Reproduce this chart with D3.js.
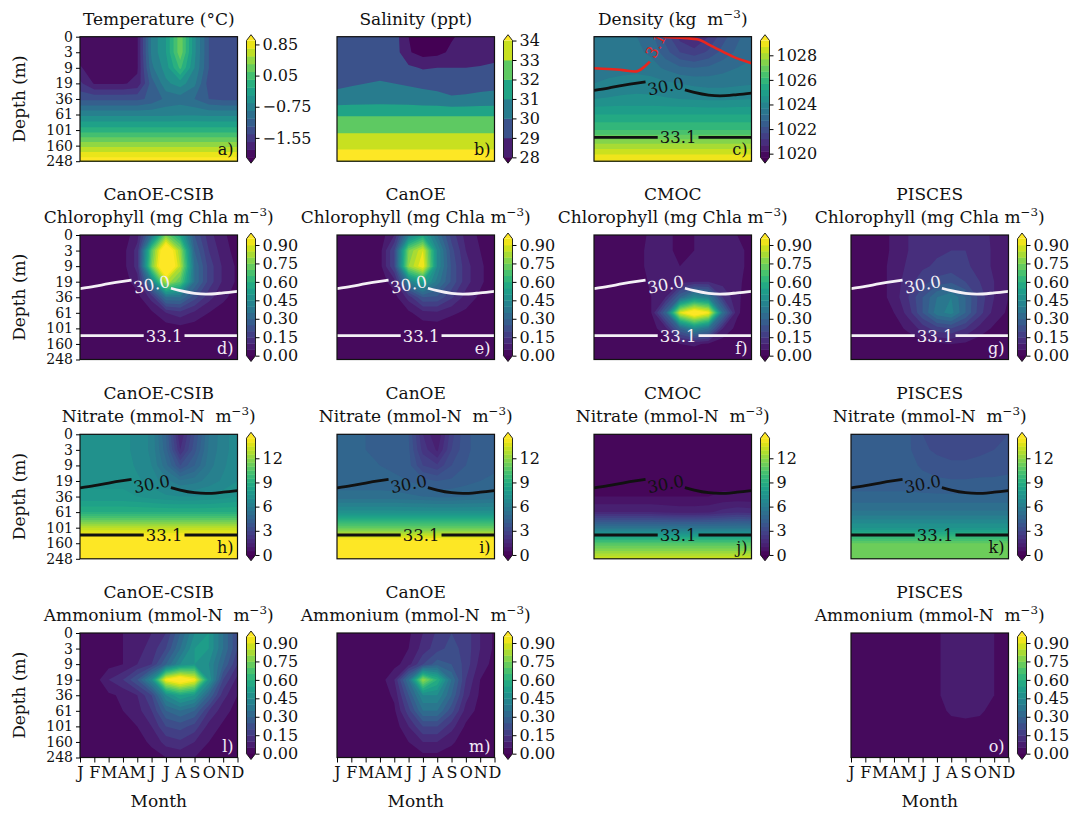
<!DOCTYPE html>
<html>
<head>
<meta charset="utf-8">
<style>
  body { margin: 0; background: #fff; }
  text { font-family: "DejaVu Serif", serif; fill: #111; }
</style>
</head>
<body>
<div id="chart"></div>
<script src="https://cdn.jsdelivr.net/npm/d3@7"></script>
<script>
/*
 * The Data
 * every grid is depth level (rows: 0,3,9,19,36,61,101,160,248 m) x month (Jan..Dec)
 */
var months = ["J","F","M","A","M","J","J","A","S","O","N","D"];
var depths = ["0","3","9","19","36","61","101","160","248"];

var temperature = [
  [-1.90,-1.90,-1.90,-1.90,-1.88,-0.80,-0.45, 0.30,-0.60,-1.25,-1.45,-1.45],
  [-1.90,-1.90,-1.90,-1.90,-1.88,-0.80,-0.45, 0.30,-0.60,-1.25,-1.45,-1.45],
  [-1.84,-1.90,-1.90,-1.90,-1.88,-0.90,-0.55, 0.00,-0.65,-1.25,-1.45,-1.45],
  [-1.60,-1.87,-1.87,-1.87,-1.80,-1.15,-0.70,-0.55,-0.80,-1.35,-1.45,-1.45],
  [-1.30,-1.30,-1.30,-1.30,-1.30,-1.20,-1.00,-0.95,-1.05,-1.25,-1.30,-1.30],
  [-0.70,-0.70,-0.70,-0.70,-0.70,-0.70,-0.70,-0.68,-0.68,-0.70,-0.70,-0.70],
  [-0.15,-0.15,-0.15,-0.15,-0.15,-0.15,-0.15,-0.15,-0.15,-0.15,-0.15,-0.15],
  [ 0.50, 0.50, 0.50, 0.50, 0.50, 0.50, 0.50, 0.50, 0.50, 0.50, 0.50, 0.50],
  [ 1.10, 1.10, 1.10, 1.10, 1.10, 1.10, 1.10, 1.10, 1.10, 1.10, 1.10, 1.10]
];
var salinity = [
  [29.50,29.45,29.45,29.50,29.50,28.00,27.50,27.50,27.90,28.30,28.60,28.80],
  [29.50,29.50,29.50,29.55,29.55,28.10,27.60,27.70,28.20,28.50,28.65,28.80],
  [29.60,29.65,29.70,29.75,29.70,29.20,28.90,29.00,29.00,29.00,29.05,29.10],
  [29.75,29.90,30.00,30.05,30.00,29.90,29.80,29.70,29.65,29.65,29.70,29.75],
  [30.40,30.45,30.50,30.55,30.50,30.45,30.35,30.30,30.10,30.15,30.25,30.30],
  [31.90,31.90,31.90,31.90,31.90,31.90,31.90,31.90,31.90,31.90,31.90,31.90],
  [32.80,32.80,32.80,32.80,32.80,32.80,32.80,32.80,32.80,32.80,32.80,32.80],
  [33.80,33.80,33.80,33.80,33.80,33.80,33.80,33.80,33.80,33.80,33.80,33.80],
  [34.60,34.60,34.60,34.60,34.60,34.60,34.60,34.60,34.60,34.60,34.60,34.60]
];
var density = [
  [1023.40,1023.35,1023.30,1023.20,1022.90,1022.00,1021.00,1020.60,1021.20,1022.00,1022.60,1023.00],
  [1023.40,1023.40,1023.35,1023.30,1023.10,1022.40,1021.70,1021.40,1021.80,1022.40,1022.80,1023.10],
  [1023.50,1023.50,1023.50,1023.50,1023.40,1023.10,1022.80,1022.70,1022.80,1023.00,1023.20,1023.30],
  [1023.70,1023.80,1023.90,1024.00,1023.95,1023.80,1023.70,1023.60,1023.55,1023.55,1023.60,1023.65],
  [1024.20,1024.25,1024.30,1024.30,1024.30,1024.25,1024.20,1024.15,1024.10,1024.10,1024.15,1024.20],
  [1025.20,1025.20,1025.20,1025.20,1025.20,1025.20,1025.20,1025.20,1025.20,1025.20,1025.20,1025.20],
  [1026.20,1026.20,1026.20,1026.20,1026.20,1026.20,1026.20,1026.20,1026.20,1026.20,1026.20,1026.20],
  [1027.90,1027.90,1027.90,1027.90,1027.90,1027.90,1027.90,1027.90,1027.90,1027.90,1027.90,1027.90],
  [1029.30,1029.30,1029.30,1029.30,1029.30,1029.30,1029.30,1029.30,1029.30,1029.30,1029.30,1029.30]
];

var chlCanoeCsib = [
  [0.00,0.00,0.00,0.02,0.08,0.35,0.75,0.55,0.25,0.12,0.06,0.02],
  [0.00,0.00,0.00,0.03,0.12,0.70,1.10,0.80,0.30,0.15,0.07,0.03],
  [0.00,0.00,0.00,0.03,0.12,0.75,1.15,0.85,0.35,0.18,0.09,0.04],
  [0.00,0.00,0.00,0.02,0.08,0.40,0.85,0.70,0.35,0.18,0.09,0.04],
  [0.00,0.00,0.00,0.01,0.03,0.12,0.35,0.35,0.22,0.12,0.06,0.03],
  [0.00,0.00,0.00,0.00,0.01,0.04,0.10,0.13,0.09,0.05,0.03,0.01],
  [0.00,0.00,0.00,0.00,0.00,0.01,0.02,0.03,0.02,0.01,0.00,0.00],
  [0.00,0.00,0.00,0.00,0.00,0.00,0.00,0.00,0.00,0.00,0.00,0.00],
  [0.00,0.00,0.00,0.00,0.00,0.00,0.00,0.00,0.00,0.00,0.00,0.00]
];
var chlCanoe = [
  [0.00,0.00,0.00,0.02,0.10,0.40,0.55,0.35,0.18,0.08,0.04,0.01],
  [0.00,0.00,0.00,0.03,0.20,0.75,0.90,0.45,0.22,0.10,0.05,0.02],
  [0.00,0.00,0.00,0.03,0.20,0.80,0.95,0.45,0.24,0.12,0.06,0.02],
  [0.00,0.00,0.00,0.02,0.08,0.40,0.55,0.38,0.24,0.12,0.06,0.02],
  [0.00,0.00,0.00,0.01,0.03,0.12,0.25,0.24,0.16,0.08,0.04,0.01],
  [0.00,0.00,0.00,0.00,0.01,0.04,0.08,0.09,0.06,0.04,0.02,0.00],
  [0.00,0.00,0.00,0.00,0.00,0.01,0.02,0.02,0.01,0.00,0.00,0.00],
  [0.00,0.00,0.00,0.00,0.00,0.00,0.00,0.00,0.00,0.00,0.00,0.00],
  [0.00,0.00,0.00,0.00,0.00,0.00,0.00,0.00,0.00,0.00,0.00,0.00]
];
var chlCmoc = [
  [0.00,0.00,0.00,0.03,0.06,0.06,0.04,0.05,0.06,0.06,0.05,0.04],
  [0.00,0.00,0.00,0.03,0.07,0.06,0.04,0.05,0.07,0.07,0.06,0.04],
  [0.00,0.00,0.00,0.03,0.07,0.07,0.05,0.06,0.08,0.08,0.06,0.04],
  [0.00,0.00,0.00,0.02,0.06,0.08,0.08,0.10,0.10,0.08,0.06,0.03],
  [0.00,0.00,0.00,0.01,0.05,0.10,0.30,0.45,0.40,0.15,0.06,0.02],
  [0.00,0.00,0.00,0.01,0.05,0.30,0.90,1.05,0.95,0.35,0.06,0.01],
  [0.00,0.00,0.00,0.00,0.03,0.08,0.30,0.45,0.35,0.10,0.03,0.00],
  [0.00,0.00,0.00,0.00,0.01,0.02,0.05,0.06,0.04,0.02,0.00,0.00],
  [0.00,0.00,0.00,0.00,0.00,0.00,0.00,0.00,0.00,0.00,0.00,0.00]
];
var chlPisces = [
  [0.02,0.02,0.03,0.06,0.10,0.12,0.13,0.14,0.14,0.12,0.09,0.06],
  [0.02,0.02,0.03,0.06,0.10,0.13,0.14,0.15,0.15,0.13,0.09,0.06],
  [0.02,0.02,0.03,0.07,0.11,0.14,0.16,0.17,0.16,0.13,0.09,0.06],
  [0.02,0.02,0.03,0.07,0.13,0.18,0.22,0.24,0.20,0.15,0.10,0.06],
  [0.02,0.02,0.03,0.07,0.15,0.25,0.35,0.40,0.30,0.18,0.10,0.05],
  [0.01,0.01,0.02,0.05,0.12,0.25,0.38,0.42,0.30,0.17,0.08,0.04],
  [0.01,0.01,0.01,0.03,0.06,0.12,0.18,0.20,0.15,0.08,0.04,0.02],
  [0.00,0.00,0.00,0.01,0.02,0.03,0.04,0.05,0.04,0.02,0.01,0.00],
  [0.00,0.00,0.00,0.00,0.00,0.00,0.00,0.00,0.00,0.00,0.00,0.00]
];

var no3CanoeCsib = [
  [7.2,7.3,7.3,7.2,6.8,6.4,4.5,1.5,3.5,5.5,6.3,6.8],
  [7.2,7.3,7.3,7.2,6.8,6.4,4.7,2.0,3.8,5.6,6.3,6.8],
  [7.3,7.3,7.3,7.3,6.9,6.5,5.2,3.5,4.5,5.8,6.4,6.9],
  [7.4,7.4,7.4,7.4,7.1,6.8,6.2,5.6,5.8,6.2,6.6,7.0],
  [7.6,7.6,7.6,7.6,7.5,7.3,7.1,7.0,7.0,7.1,7.3,7.5],
  [9.0,9.0,9.0,9.0,9.0,9.0,9.0,9.0,9.0,9.0,9.0,9.0],
  [13.0,13.0,13.0,13.0,13.0,13.0,13.0,13.0,13.0,13.0,13.0,13.0],
  [16.0,16.0,16.0,16.0,16.0,16.0,16.0,16.0,16.0,16.0,16.0,16.0],
  [16.0,16.0,16.0,16.0,16.0,16.0,16.0,16.0,16.0,16.0,16.0,16.0]
];
var no3Canoe = [
  [4.5,4.5,4.5,4.4,4.3,4.0,2.0,1.0,2.8,3.9,4.2,4.4],
  [4.5,4.5,4.5,4.4,4.3,4.1,2.3,1.4,3.0,3.9,4.2,4.4],
  [4.5,4.5,4.5,4.5,4.4,4.2,3.0,2.6,3.5,4.0,4.3,4.4],
  [4.7,4.7,4.7,4.7,4.6,4.5,4.2,4.0,4.1,4.3,4.5,4.6],
  [5.2,5.2,5.2,5.2,5.2,5.1,5.0,4.9,4.9,5.0,5.1,5.2],
  [7.2,7.2,7.2,7.2,7.2,7.2,7.2,7.2,7.2,7.2,7.2,7.2],
  [11.0,11.0,11.0,11.0,11.0,11.0,11.0,11.0,11.0,11.0,11.0,11.0],
  [15.5,15.5,15.5,15.5,15.5,15.5,15.5,15.5,15.5,15.5,15.5,15.5],
  [16.0,16.0,16.0,16.0,16.0,16.0,16.0,16.0,16.0,16.0,16.0,16.0]
];
var no3Cmoc = [
  [0.3,0.3,0.3,0.3,0.3,0.2,0.2,0.2,0.2,0.3,0.3,0.3],
  [0.3,0.3,0.3,0.3,0.3,0.2,0.2,0.2,0.2,0.3,0.3,0.3],
  [0.3,0.3,0.3,0.3,0.3,0.3,0.3,0.3,0.3,0.3,0.3,0.3],
  [0.3,0.3,0.3,0.3,0.3,0.3,0.3,0.3,0.3,0.3,0.3,0.3],
  [0.5,0.5,0.5,0.5,0.5,0.5,0.5,0.5,0.5,0.6,0.6,0.6],
  [1.5,1.5,1.5,1.5,1.5,1.4,1.3,1.3,1.4,1.7,1.9,1.8],
  [5.5,5.5,5.5,5.5,5.5,5.5,5.5,5.5,5.5,5.5,5.5,5.5],
  [10.5,10.5,10.5,10.5,10.5,10.5,10.5,10.5,10.5,10.5,10.5,10.5],
  [13.5,13.5,13.5,13.5,13.5,13.5,13.5,13.5,13.5,13.5,13.5,13.5]
];
var no3Pisces = [
  [4.2,4.2,4.2,4.2,4.1,3.5,3.3,3.2,3.2,3.3,3.4,3.5],
  [4.2,4.2,4.2,4.2,4.1,3.6,3.4,3.3,3.3,3.4,3.5,3.6],
  [4.25,4.25,4.25,4.25,4.2,3.9,3.7,3.6,3.6,3.65,3.7,3.8],
  [4.3,4.3,4.3,4.3,4.3,4.2,4.1,4.05,4.05,4.1,4.1,4.15],
  [4.6,4.6,4.6,4.6,4.6,4.6,4.6,4.6,4.6,4.6,4.6,4.6],
  [5.6,5.6,5.6,5.6,5.6,5.6,5.6,5.6,5.6,5.6,5.6,5.6],
  [7.5,7.5,7.5,7.5,7.5,7.5,7.5,7.5,7.5,7.5,7.5,7.5],
  [11.0,11.0,11.0,11.0,11.0,11.0,11.0,11.0,11.0,11.0,11.0,11.0],
  [11.0,11.0,11.0,11.0,11.0,11.0,11.0,11.0,11.0,11.0,11.0,11.0]
];

var nh4CanoeCsib = [
  [0.02,0.02,0.03,0.05,0.08,0.10,0.15,0.30,0.45,0.50,0.35,0.20],
  [0.02,0.02,0.03,0.05,0.08,0.12,0.20,0.35,0.50,0.50,0.35,0.20],
  [0.02,0.02,0.03,0.05,0.10,0.15,0.30,0.45,0.50,0.45,0.30,0.15],
  [0.02,0.02,0.10,0.15,0.25,0.45,0.95,1.05,0.95,0.50,0.20,0.08],
  [0.02,0.02,0.04,0.06,0.10,0.20,0.45,0.55,0.50,0.30,0.12,0.05],
  [0.02,0.02,0.03,0.05,0.08,0.15,0.30,0.35,0.30,0.15,0.07,0.03],
  [0.01,0.01,0.02,0.03,0.05,0.10,0.20,0.22,0.18,0.08,0.04,0.02],
  [0.01,0.01,0.01,0.02,0.03,0.06,0.12,0.14,0.10,0.05,0.02,0.01],
  [0.00,0.00,0.00,0.01,0.02,0.03,0.05,0.06,0.05,0.02,0.01,0.00]
];
var nh4Canoe = [
  [0.01,0.01,0.01,0.01,0.02,0.04,0.10,0.16,0.20,0.18,0.10,0.04],
  [0.01,0.01,0.01,0.01,0.02,0.05,0.12,0.18,0.22,0.18,0.10,0.04],
  [0.01,0.01,0.01,0.01,0.03,0.08,0.20,0.28,0.25,0.18,0.08,0.03],
  [0.01,0.01,0.01,0.02,0.10,0.35,0.80,0.60,0.35,0.15,0.05,0.02],
  [0.01,0.01,0.01,0.02,0.06,0.25,0.45,0.45,0.30,0.12,0.04,0.01],
  [0.01,0.01,0.01,0.01,0.04,0.18,0.35,0.35,0.22,0.08,0.03,0.01],
  [0.00,0.00,0.00,0.01,0.02,0.10,0.20,0.20,0.12,0.04,0.01,0.00],
  [0.00,0.00,0.00,0.00,0.01,0.05,0.10,0.10,0.06,0.02,0.00,0.00],
  [0.00,0.00,0.00,0.00,0.00,0.02,0.03,0.03,0.02,0.00,0.00,0.00]
];
var nh4Pisces = [
  [0.02,0.02,0.02,0.02,0.02,0.03,0.04,0.08,0.09,0.09,0.05,0.03],
  [0.02,0.02,0.02,0.02,0.02,0.03,0.04,0.08,0.09,0.09,0.05,0.03],
  [0.02,0.02,0.02,0.02,0.02,0.03,0.04,0.08,0.09,0.09,0.05,0.03],
  [0.02,0.02,0.02,0.02,0.02,0.03,0.04,0.08,0.09,0.09,0.05,0.03],
  [0.02,0.02,0.02,0.02,0.02,0.03,0.04,0.08,0.09,0.09,0.05,0.03],
  [0.02,0.02,0.02,0.02,0.02,0.02,0.03,0.06,0.07,0.06,0.03,0.02],
  [0.02,0.02,0.02,0.02,0.02,0.02,0.02,0.03,0.03,0.03,0.02,0.02],
  [0.02,0.02,0.02,0.02,0.02,0.02,0.02,0.02,0.02,0.02,0.02,0.02],
  [0.02,0.02,0.02,0.02,0.02,0.02,0.02,0.02,0.02,0.02,0.02,0.02]
];

// contour levels and colorbar ticks
var tempLevels = [-2.05,-1.85,-1.65,-1.45,-1.25,-1.05,-0.85,-0.65,-0.45,-0.25,-0.05,0.15,0.35,0.55,0.75,0.95];
var tempTicks = [-1.55,-0.75,0.05,0.85];
var salLevels = [28,29,30,31,32,33,34];
var salTicks = [28,29,30,31,32,33,34];
var densLevels = [1019.7,1020.2,1020.7,1021.2,1021.7,1022.2,1022.7,1023.2,1023.7,1024.2,1024.7,1025.2,1025.7,1026.2,1026.7,1027.2,1027.7,1028.2,1028.7,1029.2];
var densTicks = [1020,1022,1024,1026,1028];
var chlLevels = [0,0.05,0.10,0.15,0.20,0.25,0.30,0.35,0.40,0.45,0.50,0.55,0.60,0.65,0.70,0.75,0.80,0.85,0.90,0.95];
var chlTicks = [0,0.15,0.30,0.45,0.60,0.75,0.90];
var no3Levels = [0,0.5,1,1.5,2,2.5,3,3.5,4,4.5,5,5.5,6,6.5,7,7.5,8,8.5,9,9.5,10,10.5,11,11.5,12,12.5,13,13.5,14,14.5];
var no3Ticks = [0,3,6,9,12];

// isohalines (month index, depth level index), split where the label sits
var iso30Left = [[0,3.45],[1,3.3],[2,3.13],[3,2.98],[3.6,2.9]];
var iso30Right = [[6.35,3.42],[7,3.58],[8,3.75],[8.8,3.8],[10,3.72],[11,3.62]];
var iso30Label = [5.0, 3.18];
var iso331Left = [[0,6.47],[4.45,6.47]];
var iso331Right = [[7.3,6.47],[11,6.47]];
var iso331Label = [5.88, 6.47];
// red contour in the density panel
var redLeft = [[0,2.03],[1,2.08],[2,2.15],[2.86,2.24],[3.9,1.6]];
var redRight = [[4.6,-0.3],[4.95,0.02],[6,0.06],[7.2,0.17],[8.3,0.64],[9.7,1.28],[11,1.7]];
var redLabel = [4.3, 0.55];

/*
 * The Setup
 */
var W = 1083, H = 814;
var colX = [80, 337, 594, 851];
var rowY = [36.7, 235, 434.3, 633];
var PW = 157.5, PH = 124.5;
var ink = "#111";
var pale = "#f2eaf7";

var panels = [
  {row:0, col:0, grid:temperature, levels:tempLevels, ticks:tempTicks, fmt:".2f", title:["Temperature (°C)"], label:"a)", labelColor:ink},
  {row:0, col:1, grid:salinity, levels:salLevels, ticks:salTicks, fmt:"d", title:["Salinity (ppt)"], label:"b)", labelColor:ink},
  {row:0, col:2, grid:density, levels:densLevels, ticks:densTicks, fmt:"d", title:["Density (kg  m^−3^)"], label:"c)", labelColor:ink, iso:ink, red:true},
  {row:1, col:0, grid:chlCanoeCsib, levels:chlLevels, ticks:chlTicks, fmt:".2f", title:["CanOE-CSIB","Chlorophyll (mg Chla m^−3^)"], label:"d)", labelColor:pale, iso:"#f4f0f6"},
  {row:1, col:1, grid:chlCanoe, levels:chlLevels, ticks:chlTicks, fmt:".2f", title:["CanOE","Chlorophyll (mg Chla m^−3^)"], label:"e)", labelColor:pale, iso:"#f4f0f6"},
  {row:1, col:2, grid:chlCmoc, levels:chlLevels, ticks:chlTicks, fmt:".2f", title:["CMOC","Chlorophyll (mg Chla m^−3^)"], label:"f)", labelColor:pale, iso:"#f4f0f6"},
  {row:1, col:3, grid:chlPisces, levels:chlLevels, ticks:chlTicks, fmt:".2f", title:["PISCES","Chlorophyll (mg Chla m^−3^)"], label:"g)", labelColor:pale, iso:"#f4f0f6"},
  {row:2, col:0, grid:no3CanoeCsib, levels:no3Levels, ticks:no3Ticks, fmt:"d", title:["CanOE-CSIB","Nitrate (mmol-N  m^−3^)"], label:"h)", labelColor:ink, iso:ink},
  {row:2, col:1, grid:no3Canoe, levels:no3Levels, ticks:no3Ticks, fmt:"d", title:["CanOE","Nitrate (mmol-N  m^−3^)"], label:"i)", labelColor:ink, iso:ink},
  {row:2, col:2, grid:no3Cmoc, levels:no3Levels, ticks:no3Ticks, fmt:"d", title:["CMOC","Nitrate (mmol-N  m^−3^)"], label:"j)", labelColor:ink, iso:ink},
  {row:2, col:3, grid:no3Pisces, levels:no3Levels, ticks:no3Ticks, fmt:"d", title:["PISCES","Nitrate (mmol-N  m^−3^)"], label:"k)", labelColor:ink, iso:ink},
  {row:3, col:0, grid:nh4CanoeCsib, levels:chlLevels, ticks:chlTicks, fmt:".2f", title:["CanOE-CSIB","Ammonium (mmol-N  m^−3^)"], label:"l)", labelColor:pale},
  {row:3, col:1, grid:nh4Canoe, levels:chlLevels, ticks:chlTicks, fmt:".2f", title:["CanOE","Ammonium (mmol-N  m^−3^)"], label:"m)", labelColor:pale},
  {row:3, col:3, grid:nh4Pisces, levels:chlLevels, ticks:chlTicks, fmt:".2f", title:["PISCES","Ammonium (mmol-N  m^−3^)"], label:"o)", labelColor:pale}
];

var svg = d3.select("#chart").append("svg")
    .attr("width", W)
    .attr("height", H);

function bandColor(i, n) { return d3.interpolateViridis((i + 0.5) / n); }

// text with ^superscript^ parts
function richText(sel, str, size) {
  var parts = str.split("^");
  parts.forEach(function(s, i) {
    if (!s) return;
    var t = sel.append("tspan").text(s);
    if (i % 2 === 1) {
      t.attr("font-size", size * 0.7).attr("dy", -size * 0.42);
    } else if (i > 0) {
      t.attr("dy", size * 0.42);
    }
  });
}

var mx = d3.scaleLinear().domain([0, 11]).range([0, PW]);
var ly = d3.scaleLinear().domain([0, 8]).range([0, PH]);
var line = d3.line()
    .x(function(d) { return mx(d[0]); })
    .y(function(d) { return ly(d[1]); })
    .curve(d3.curveMonotoneX);

panels.forEach(function(p) {
  var g = svg.append("g")
      .attr("transform", "translate(" + colX[p.col] + "," + rowY[p.row] + ")");
  var ny = p.grid.length, nx = p.grid[0].length;
  var n = p.levels.length - 1;

  // grid cell centres sit at i+0.5 in d3.contours space
  var gx = d3.scaleLinear().domain([0.5, nx - 0.5]).range([0, PW]);
  var gy = d3.scaleLinear().domain([0.5, ny - 0.5]).range([0, PH]);
  var path = d3.geoPath(d3.geoTransform({
    point: function(x, y) { this.stream.point(gx(x), gy(y)); }
  }));

  var clipId = "clip" + p.row + p.col;
  g.append("clipPath").attr("id", clipId)
    .append("rect").attr("width", PW).attr("height", PH);
  var field = g.append("g").attr("clip-path", "url(#" + clipId + ")");

  field.append("rect")
      .attr("width", PW).attr("height", PH)
      .attr("fill", d3.interpolateViridis(0));

  var contours = d3.contours().size([nx, ny]).thresholds(p.levels)(p.grid.flat());
  field.selectAll("path.band")
    .data(contours)
    .enter().append("path")
      .attr("class", "band")
      .attr("d", function(d) { return path(d); })
      .attr("fill", function(d, i) { return i < n ? bandColor(i, n) : d3.interpolateViridis(1); });

  // isohalines
  if (p.iso) {
    [iso30Left, iso30Right, iso331Left, iso331Right].forEach(function(seg) {
      field.append("path")
          .datum(seg)
          .attr("fill", "none")
          .attr("stroke", p.iso)
          .attr("stroke-width", 2.8)
          .attr("d", line);
    });
    field.append("text")
        .attr("transform", "translate(" + mx(iso30Label[0]) + "," + ly(iso30Label[1]) + ") rotate(-11)")
        .attr("text-anchor", "middle")
        .attr("dy", "0.36em")
        .attr("font-size", 16.5)
        .style("fill", p.iso)
        .text("30.0");
    field.append("text")
        .attr("x", mx(iso331Label[0]))
        .attr("y", ly(iso331Label[1]))
        .attr("text-anchor", "middle")
        .attr("dy", "0.36em")
        .attr("font-size", 16.5)
        .style("fill", p.iso)
        .text("33.1");
  }
  if (p.red) {
    [redLeft, redRight].forEach(function(seg) {
      field.append("path")
          .datum(seg)
          .attr("fill", "none")
          .attr("stroke", "#e8261e")
          .attr("stroke-width", 2.6)
          .attr("d", line);
    });
    field.append("text")
        .attr("transform", "translate(" + mx(redLabel[0]) + "," + ly(redLabel[1]) + ") rotate(-62)")
        .attr("text-anchor", "middle")
        .attr("dy", "0.36em")
        .attr("font-size", 16)
        .style("fill", "#e8261e")
        .text("3.1");
  }

  // frame
  g.append("rect")
      .attr("width", PW).attr("height", PH)
      .attr("fill", "none")
      .attr("stroke", ink)
      .attr("stroke-width", 1.2);

  // panel letter
  g.append("text")
      .attr("x", PW - 4)
      .attr("y", PH - 6)
      .attr("text-anchor", "end")
      .attr("font-size", 16)
      .style("fill", p.labelColor)
      .text(p.label);

  // title
  p.title.forEach(function(tl, i) {
    var t = g.append("text")
        .attr("x", PW / 2)
        .attr("y", -12 - (p.title.length - 1 - i) * 23)
        .attr("text-anchor", "middle")
        .attr("font-size", 17)
        .style("white-space", "pre");
    richText(t, tl, 17);
  });

  /*
   * Colorbar with extend arrows
   */
  var cbw = 9, tipLen = PH + 4, inner = tipLen / 1.1, ext = inner * 0.05;
  var it = -2 + ext, ib = it + inner;
  var cy = d3.scaleLinear().domain([p.levels[0], p.levels[n]]).range([ib, it]);
  var cb = g.append("g").attr("transform", "translate(" + (PW + 9) + ",0)");
  cb.selectAll("rect")
    .data(d3.range(n))
    .enter().append("rect")
      .attr("y", function(i) { return cy(p.levels[i + 1]); })
      .attr("height", function(i) { return cy(p.levels[i]) - cy(p.levels[i + 1]) + 0.4; })
      .attr("width", cbw)
      .attr("fill", function(i) { return bandColor(i, n); });
  cb.append("path")
      .attr("d", "M0," + it + "L" + cbw / 2 + "," + (it - ext) + "L" + cbw + "," + it + "Z")
      .attr("fill", d3.interpolateViridis(1));
  cb.append("path")
      .attr("d", "M0," + ib + "L" + cbw / 2 + "," + (ib + ext) + "L" + cbw + "," + ib + "Z")
      .attr("fill", d3.interpolateViridis(0));
  cb.append("path")
      .attr("d", "M0," + it + "L" + cbw / 2 + "," + (it - ext) + "L" + cbw + "," + it +
                 "L" + cbw + "," + ib + "L" + cbw / 2 + "," + (ib + ext) + "L0," + ib + "Z")
      .attr("fill", "none")
      .attr("stroke", ink)
      .attr("stroke-width", 0.9);
  cb.append("g")
      .attr("transform", "translate(" + cbw + ",0)")
      .call(d3.axisRight(cy).tickValues(p.ticks).tickFormat(d3.format(p.fmt)).tickSize(4).tickPadding(3))
      .attr("font-family", "DejaVu Serif")
      .attr("font-size", 16)
      .call(function(a) { a.select(".domain").remove(); });

  // depth axis on first column
  if (p.col === 0) {
    var yAxisScale = d3.scalePoint().domain(depths).range([0, PH]);
    g.append("g")
        .call(d3.axisLeft(yAxisScale).tickSize(4).tickPadding(3))
        .attr("font-family", "DejaVu Serif")
        .attr("font-size", 14)
        .call(function(a) { a.select(".domain").remove(); });
    g.append("text")
        .attr("transform", "translate(-55," + PH / 2 + ") rotate(-90)")
        .attr("text-anchor", "middle")
        .attr("font-size", 17)
        .text("Depth (m)");
  }
  // month axis on bottom row
  if (p.row === 3) {
    var xAxisScale = d3.scalePoint().domain(d3.range(12)).range([0, PW]);
    g.append("g")
        .attr("transform", "translate(0," + PH + ")")
        .call(d3.axisBottom(xAxisScale).tickSize(5).tickPadding(4).tickFormat(function(i) { return months[i]; }))
        .attr("font-family", "DejaVu Serif")
        .attr("font-size", 16)
        .call(function(a) { a.select(".domain").remove(); });
    g.append("text")
        .attr("x", PW / 2)
        .attr("y", PH + 49)
        .attr("text-anchor", "middle")
        .attr("font-size", 17)
        .text("Month");
  }
});
</script>
</body>
</html>
